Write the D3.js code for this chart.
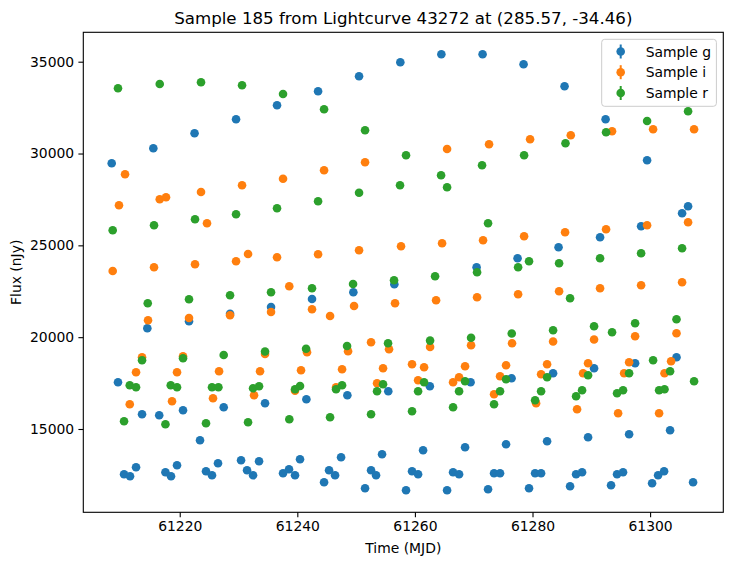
<!DOCTYPE html>
<html>
<head>
<meta charset="utf-8">
<script src="https://cdn.jsdelivr.net/npm/d3@7"></script>
<style>
  html, body { margin: 0; padding: 0; background: #fff; }
  svg { display: block; font-family: "DejaVu Sans", sans-serif; }
</style>
</head>
<body>
<svg id="chart" width="733" height="565"></svg>
<script>
// ---------------- data ----------------
const titleText = "Sample 185 from Lightcurve 43272 at (285.57, -34.46)";
const xLabel = "Time (MJD)";
const yLabel = "Flux (nJy)";
const xTicks = [61220, 61240, 61260, 61280, 61300];
const yTicks = [15000, 20000, 25000, 30000, 35000];
const bandNames = ["Sample g", "Sample i", "Sample r"];
const bandColors = ["#1f77b4", "#ff7f0e", "#2ca02c"];

const gTime = [61208.43,61215.51,61222.52,61229.58,61236.55,61243.53,61250.50,61257.52,61264.50,61271.51,61278.48,61285.45,61292.43,61299.49,61306.46,61305.44,61298.47,61291.49,61284.43,61277.46,61270.49,61256.50,61249.53,61242.50,61235.53,61228.56,61221.58,61214.49,61209.50,61248.51,61255.47,61262.54,61269.47,61276.44,61283.50,61290.47,61297.45,61304.49,61241.54,61234.51,61227.48,61220.56,61213.59,61216.51,61223.45,61240.46,61247.44,61254.41,61261.39,61268.53,61275.50,61282.48,61289.45,61296.43,61303.40,61233.49,61226.51,61219.54,61212.57,61230.43,61210.53,61211.55,61217.57,61218.52,61224.47,61225.49,61231.45,61232.47,61237.57,61238.59,61239.61,61244.55,61245.40,61246.42,61251.52,61252.54,61253.39,61258.49,61259.51,61260.54,61265.47,61266.49,61267.51,61272.44,61273.46,61274.48,61279.41,61280.44,61281.46,61286.39,61287.41,61288.43,61293.36,61294.38,61295.40,61300.34,61301.36,61302.38,61307.31];
const gFlux = [29467,30284,31101,31863,32625,33388,34205,34967,35402,35402,34858,33660,31863,29631,27126,26745,26037,25438,24894,24295,23805,22879,22443,22079,21643,21278,20864,20483,17543,16835,17053,17325,17543,17761,18033,18305,18577,18904,16617,16399,16182,16018,15800,15746,14385,13350,13459,13622,13840,14004,14167,14330,14548,14711,14929,13241,13132,13023,12915,13296,12533,12425,12642,12425,12697,12479,12751,12479,12588,12806,12479,12098,12751,12479,11771,12751,12479,11662,12697,12533,11662,12642,12533,11717,12588,12588,11771,12588,12588,11880,12533,12642,11934,12533,12642,12043,12479,12697,12098];

const iTime = [61210.70,61223.62,61230.60,61237.57,61244.55,61251.52,61265.47,61272.61,61279.59,61286.51,61293.53,61300.51,61307.48,61209.67,61216.60,61217.67,61224.64,61306.46,61208.60,61215.63,61222.60,61229.58,61231.62,61236.55,61243.53,61250.50,61257.64,61264.62,61271.59,61278.57,61285.54,61292.51,61299.49,61238.63,61242.50,61245.57,61249.65,61256.62,61263.60,61270.57,61277.55,61284.52,61291.49,61298.47,61305.44,61214.61,61221.58,61228.56,61235.53,61213.59,61220.56,61234.51,61241.65,61248.63,61252.54,61255.60,61262.58,61269.55,61276.52,61283.50,61290.47,61297.45,61304.49,61212.57,61219.54,61226.69,61233.66,61240.63,61247.61,61254.58,61259.51,61261.56,61268.53,61275.50,61282.48,61289.45,61296.43,61303.57,61232.64,61239.61,61246.59,61253.56,61260.54,61266.49,61267.51,61273.46,61274.48,61281.46,61288.60,61295.58,61302.45,61280.61,61287.58,61294.56,61301.53,61211.50,61218.69,61225.66];
const iFlux = [28868,27905,28275,28623,29086,29522,30246,30502,30774,30992,31210,31319,31319,27180,27507,27616,26200,26255,23603,23805,23968,24131,24529,24349,24512,24730,24948,25111,25275,25493,25710,25874,26091,22770,21518,21153,21697,21844,22008,22171,22334,22498,22661,22824,22988,20919,21044,21191,21371,18904,18959,19084,19176,19231,19721,19340,19465,19557,19666,19764,19873,20048,20211,18087,18087,18142,18142,18196,18251,18305,18523,18360,18414,18468,18523,18577,18632,18686,16835,17080,17271,17488,17652,17543,17815,16889,17870,17978,18033,18033,18033,16399,16073,15855,15855,16345,16508,16672];

const rTime = [61209.50,61216.60,61223.62,61230.60,61237.57,61244.55,61251.52,61258.49,61271.42,61264.45,61257.47,61265.47,61250.50,61278.57,61285.61,61292.51,61299.49,61306.46,61243.53,61236.55,61229.58,61222.60,61215.63,61208.60,61272.44,61279.41,61277.55,61284.52,61291.49,61298.47,61305.44,61286.39,61270.57,61263.43,61256.45,61249.48,61242.50,61235.53,61228.56,61221.58,61214.56,61213.59,61220.56,61227.48,61234.51,61241.49,61248.46,61255.43,61262.58,61269.55,61276.47,61283.50,61290.47,61293.53,61297.45,61304.49,61211.50,61212.57,61218.47,61219.54,61225.49,61226.58,61232.47,61233.49,61239.61,61240.46,61246.59,61247.61,61253.56,61254.58,61260.54,61261.56,61267.51,61268.53,61274.48,61275.50,61281.46,61282.48,61280.44,61287.41,61288.43,61289.45,61294.38,61295.40,61296.43,61300.51,61301.53,61302.45,61303.40,61307.48,61210.53,61217.57,61224.47,61231.62,61238.64,61245.57,61252.54,61259.51,61266.49,61273.46];
const rFlux = [33551,33785,33878,33714,33241,32408,31264,29903,29358,28814,28269,28161,27861,29903,30556,31155,31771,32299,27398,27017,26690,26418,26091,25819,26200,24131,23805,24022,24295,24567,24839,22117,23532,23315,23097,22895,22661,22443,22280,22062,21844,18741,18850,19029,19220,19367,19519,19666,19813,19966,20200,20374,20592,20265,20755,20973,17380,17271,17380,17271,17271,17271,17216,17325,17162,17341,17162,17380,17053,17434,17053,17543,17053,17597,17053,17706,17053,17815,16563,16781,17107,17924,16944,17107,18033,18741,17107,17162,18142,17597,15419,15256,15310,15365,15528,15637,15800,15964,16182,16345];

// ---------------- layout ----------------
const svg = d3.select("#chart");
const L = 83.3, R = 723.3, T = 32.3, B = 512.3;
const x = d3.scaleLinear().domain([61203.6, 61312.45]).range([L, R]);
const y = d3.scaleLinear().domain([10464, 36601]).range([B, T]);
const tickFont = 13.9;

// points
const bands = [
  {t: gTime, f: gFlux},
  {t: iTime, f: iFlux},
  {t: rTime, f: rFlux}
];
bands.forEach((b, bi) => {
  const pts = b.t.map((tv, k) => [tv, b.f[k]]);
  svg.append("g").selectAll("circle").data(pts).enter().append("circle")
    .attr("cx", d => x(d[0]))
    .attr("cy", d => y(d[1]))
    .attr("r", 4.3)
    .attr("fill", bandColors[bi]);
});

// axes
const xAxis = d3.axisBottom(x).tickValues(xTicks).tickSize(4.9).tickPadding(4.2).tickFormat(d3.format("d"));
const yAxis = d3.axisLeft(y).tickValues(yTicks).tickSize(4.9).tickPadding(4.2).tickFormat(d3.format("d"));
const gx = svg.append("g").attr("transform", `translate(0,${B})`).call(xAxis);
const gy = svg.append("g").attr("transform", `translate(${L},0)`).call(yAxis);
[gx, gy].forEach(g => {
  g.select(".domain").remove();
  g.selectAll(".tick line").attr("stroke", "#000").attr("stroke-width", 1.1);
  g.selectAll(".tick text").attr("fill", "#000").attr("font-size", tickFont)
    .attr("font-family", "DejaVu Sans");
});

// frame
svg.append("rect").attr("x", L).attr("y", T).attr("width", R - L).attr("height", B - T)
  .attr("fill", "none").attr("stroke", "#000").attr("stroke-width", 1.1);

// title and labels
svg.append("text").attr("x", (L + R) / 2).attr("y", 24).attr("text-anchor", "middle")
  .attr("font-size", 16.67).attr("fill", "#000").text(titleText);
svg.append("text").attr("x", (L + R) / 2).attr("y", 553).attr("text-anchor", "middle")
  .attr("font-size", tickFont).attr("fill", "#000").text(xLabel);
svg.append("text").attr("transform", `translate(21,${(T + B) / 2}) rotate(-90)`)
  .attr("text-anchor", "middle").attr("font-size", tickFont).attr("fill", "#000").text(yLabel);

// legend
const lg = svg.append("g");
lg.append("rect").attr("x", 601.7).attr("y", 39.3).attr("width", 114.7).attr("height", 67)
  .attr("rx", 3).attr("fill", "#fff").attr("fill-opacity", 0.8)
  .attr("stroke", "#cccccc").attr("stroke-width", 1);
const rowY = [51.5, 72.2, 93];
bandNames.forEach((name, k) => {
  const cy = rowY[k];
  lg.append("line").attr("x1", 620.7).attr("x2", 620.7).attr("y1", cy - 7).attr("y2", cy + 7)
    .attr("stroke", bandColors[k]).attr("stroke-width", 2);
  lg.append("circle").attr("cx", 620.7).attr("cy", cy).attr("r", 4.3).attr("fill", bandColors[k]);
  lg.append("text").attr("x", 645.7).attr("y", cy + 5).attr("font-size", tickFont)
    .attr("fill", "#000").text(name);
});
</script>
</body>
</html>
